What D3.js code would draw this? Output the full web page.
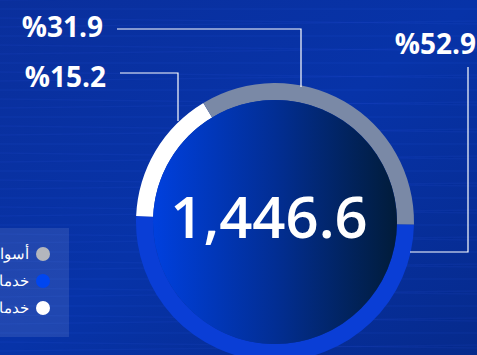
<!DOCTYPE html>
<html>
<head>
<meta charset="utf-8">
<script src="https://cdn.jsdelivr.net/npm/d3@7"></script>
<style>
  html, body { margin: 0; padding: 0; background: #072c94; }
  svg { display: block; }
</style>
</head>
<body>
<svg id="chart" width="477" height="355"></svg>
<script>
// data
var segments = ["أسواق رأس المال", "خدمات الشركات", "خدمات الأفراد"];
var shares = [31.9, 52.9, 15.2];
var total = "1,446.6";
// arc sizes as drawn in the picture (not exactly proportional to the labels)
var ringShares = [33.9, 50.4, 15.7];
// ring order (clockwise from 3 o'clock): blue, white, grey
var ringOrder = [1, 2, 0];
var ringColors = ["#7a89a6", "#0a3ed6", "#ffffff"];
var legendColors = ["#b3b6bd", "#0046f0", "#ffffff"];

var svg = d3.select("#chart");
var W = 477, H = 355;
var cx = 275, cy = 222, rOut = 139, rIn = 122;

var defs = svg.append("defs");
var bg = defs.append("linearGradient").attr("id", "bg")
  .attr("x1", 0).attr("y1", 0).attr("x2", 1).attr("y2", 1);
bg.append("stop").attr("offset", 0).attr("stop-color", "#0a2f9c");
bg.append("stop").attr("offset", 0.5).attr("stop-color", "#0733a8");
bg.append("stop").attr("offset", 1).attr("stop-color", "#062a8c");

var inner = defs.append("linearGradient").attr("id", "inner")
  .attr("x1", 0).attr("y1", 0).attr("x2", 1).attr("y2", 0);
inner.append("stop").attr("offset", 0).attr("stop-color", "#0040de");
inner.append("stop").attr("offset", 0.5).attr("stop-color", "#022e94");
inner.append("stop").attr("offset", 1).attr("stop-color", "#011c3a");

svg.append("rect").attr("width", W).attr("height", H).attr("fill", "url(#bg)");

// faint streaks in the background
var streaks = d3.range(0, H, 9);
svg.append("g").selectAll("line").data(streaks).enter().append("line")
  .attr("x1", 0).attr("x2", W)
  .attr("y1", function(d) { return d; }).attr("y2", function(d, i) { return d + (i % 3 - 1) * 6; })
  .attr("stroke", "#3a6cff").attr("stroke-opacity", 0.08).attr("stroke-width", 1.5);

// donut
var start = 91 * Math.PI / 180;
var pie = d3.pie().sort(null).value(function(d) { return ringShares[d]; })
  .startAngle(start).endAngle(start + 2 * Math.PI);
var arc = d3.arc().innerRadius(rIn).outerRadius(rOut);

var g = svg.append("g").attr("transform", "translate(" + cx + "," + cy + ")");
g.selectAll("path").data(pie(ringOrder)).enter().append("path")
  .attr("d", arc)
  .attr("fill", function(d) { return ringColors[d.data]; });

g.append("circle").attr("r", rIn).attr("fill", "url(#inner)");

g.append("text")
  .attr("x", -6).attr("y", 16)
  .attr("text-anchor", "middle")
  .attr("fill", "#fff")
  .attr("font-family", "'Open Sans', sans-serif")
  .attr("font-weight", 600)
  .attr("font-size", 58)
  .text(total);

// percentage labels with leader lines
var fmt = function(v) { return "%" + d3.format(".1f")(v); };
var labels = [
  {i: 0, x: 103, y: 37, anchor: "end", path: [[117, 29], [301, 29], [301, 87]]},
  {i: 2, x: 106, y: 87, anchor: "end", path: [[120, 73], [178, 73], [178, 121]]},
  {i: 1, x: 476, y: 54, anchor: "end", path: [[468, 67], [468, 252], [410, 252]]}
];
var lbl = svg.append("g");
lbl.selectAll("path").data(labels).enter().append("path")
  .attr("d", function(d) { return d3.line()(d.path); })
  .attr("fill", "none").attr("stroke", "#ffffff").attr("stroke-width", 1.2);
lbl.selectAll("text").data(labels).enter().append("text")
  .attr("x", function(d) { return d.x; })
  .attr("y", function(d) { return d.y; })
  .attr("text-anchor", function(d) { return d.anchor; })
  .attr("fill", "#fff")
  .attr("font-family", "'Open Sans', sans-serif")
  .attr("font-weight", 700)
  .attr("font-size", 28)
  .text(function(d) { return fmt(shares[d.i]); });

// legend
var leg = svg.append("g");
leg.append("rect").attr("x", -10).attr("y", 228).attr("width", 79).attr("height", 109)
  .attr("fill", "#ffffff").attr("fill-opacity", 0.1);
var items = leg.selectAll("g.item").data(segments).enter().append("g")
  .attr("transform", function(d, i) { return "translate(0," + (254 + i * 27) + ")"; });
items.append("circle").attr("cx", 43).attr("cy", 0).attr("r", 7)
  .attr("fill", function(d, i) { return legendColors[i]; });
items.append("text")
  .attr("x", 29).attr("y", 5)
  .attr("text-anchor", "end")
  .attr("fill", "#fff")
  .attr("font-family", "'Noto Sans', sans-serif")
  .attr("font-size", 15)
  .text(function(d) { return d; });
</script>
</body>
</html>
